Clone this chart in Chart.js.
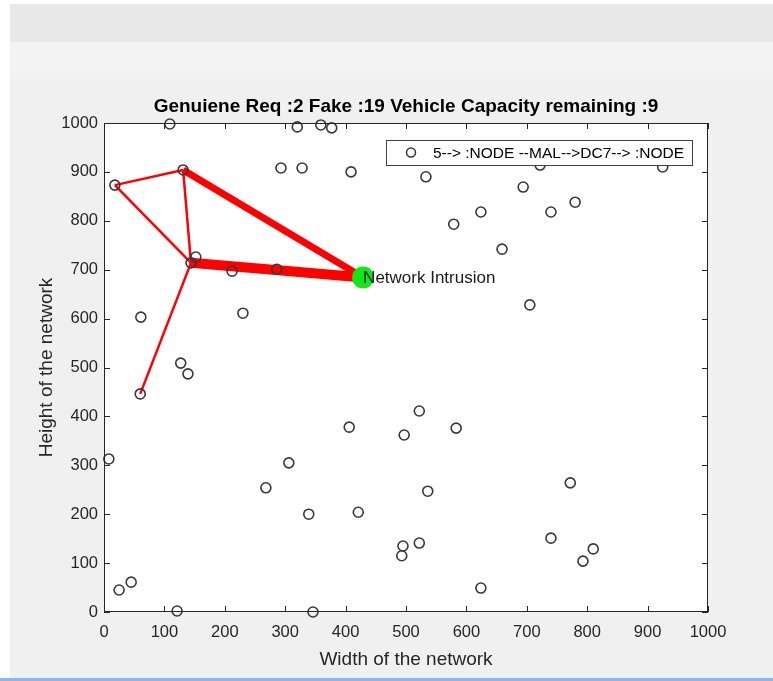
<!DOCTYPE html>
<html lang="en">
<head>
<meta charset="UTF-8">
<title>Network Intrusion</title>
<script src="https://cdn.jsdelivr.net/npm/chart.js"></script>
<style>
    body { margin: 0; background: #fff; font-family: "Liberation Sans", Arial, sans-serif; }
    .frame { position: absolute; left: 10px; top: 4px; width: 763px; height: 674px; background: #f0f0f0; }
    .toolbar { position: absolute; left: 10px; top: 4px; width: 763px; height: 38px; background: #e8e8e8; }
    .strip { position: absolute; left: 10px; top: 42px; width: 763px; height: 37px; background: #f3f3f3; }
    .bottom-line { position: absolute; left: 0; top: 678px; width: 773px; height: 3px; background: #8db6e2; }
    #plot { position: absolute; left: 0; top: 0; }
</style>
</head>
<body>
<div class="frame"></div>
<div class="toolbar"></div>
<div class="strip"></div>
<div class="bottom-line"></div>
<canvas id="plot" width="773" height="681"></canvas>
<script>
// node positions
const nodeX = [109, 320, 359, 377, 293, 328, 409, 131, 18, 533,
               722, 925, 694, 624, 579, 740, 780, 659, 705, 152,
               144, 212, 286, 230, 61, 127, 139, 60, 8, 268,
               306, 406, 497, 522, 583, 536, 772, 25, 45, 121,
               339, 421, 346, 495, 493, 522, 624, 740, 793, 810];
const nodeY = [998, 992, 996, 990, 908, 908, 900, 904, 873, 890,
               914, 910, 869, 818, 793, 818, 838, 742, 628, 726,
               714, 697, 701, 611, 603, 509, 487, 446, 313, 254,
               305, 378, 362, 411, 376, 247, 264, 45, 61, 2,
               200, 204, 0, 135, 115, 141, 49, 151, 104, 129];

// intruder node (green)
const intruderX = [429];
const intruderY = [684];

// route links: node index, -1 means the intruder
const linkFrom = [8, 8, 7, 7, 20, 20];
const linkTo = [7, 20, 20, -1, -1, 27];

const axisTicks = [0, 100, 200, 300, 400, 500, 600, 700, 800, 900, 1000];

const titleText = 'Genuiene Req :2 Fake :19 Vehicle Capacity remaining :9';
const legendText = '5--> :NODE --MAL-->DC7--> :NODE';
const intruderLabel = 'Network Intrusion';

const linkWidths = [2.5, 2.5, 2.5, 7, 10, 2.5];
const FONT = '"Liberation Sans", Arial, sans-serif';

function pointOf(i) {
    return i < 0 ? { x: intruderX[0], y: intruderY[0] } : { x: nodeX[i], y: nodeY[i] };
}

const linkSets = linkFrom.map((f, k) => ({
    data: [pointOf(f), pointOf(linkTo[k])],
    showLine: true,
    borderColor: '#ff0000',
    borderWidth: linkWidths[k],
    pointRadius: 0,
    clip: false,
    order: 3
}));

const figurePlugin = {
    id: 'figure',
    beforeDraw(chart) {
        const { ctx, chartArea: a } = chart;
        ctx.save();
        ctx.fillStyle = '#fff';
        ctx.fillRect(a.left, a.top, a.right - a.left, a.bottom - a.top);
        ctx.restore();
    },
    afterDraw(chart) {
        const { ctx, chartArea: a, scales } = chart;
        ctx.save();
        // box
        ctx.strokeStyle = '#262626';
        ctx.lineWidth = 1;
        ctx.strokeRect(a.left + 0.5, a.top + 0.5, a.right - a.left - 1, a.bottom - a.top - 1);
        // inward ticks
        ctx.beginPath();
        axisTicks.forEach(v => {
            const px = Math.round(scales.x.getPixelForValue(v)) + 0.5;
            ctx.moveTo(px, a.bottom); ctx.lineTo(px, a.bottom - 6);
            ctx.moveTo(px, a.top); ctx.lineTo(px, a.top + 6);
            const py = Math.round(scales.y.getPixelForValue(v)) + 0.5;
            ctx.moveTo(a.left, py); ctx.lineTo(a.left + 6, py);
            ctx.moveTo(a.right, py); ctx.lineTo(a.right - 6, py);
        });
        ctx.stroke();

        // title
        ctx.fillStyle = '#000';
        ctx.font = 'bold 19px ' + FONT;
        ctx.textAlign = 'center';
        ctx.textBaseline = 'middle';
        ctx.fillText(titleText, (a.left + a.right) / 2, 107);

        // intruder label
        ctx.font = '17px ' + FONT;
        ctx.textAlign = 'left';
        ctx.fillStyle = '#1a1a1a';
        ctx.fillText(intruderLabel, scales.x.getPixelForValue(intruderX[0]), scales.y.getPixelForValue(intruderY[0]) + 1);

        // legend box
        const lw = 306, lh = 25;
        const lx = a.right - 16 - lw, ly = a.top + 17;
        ctx.fillStyle = '#fff';
        ctx.fillRect(lx, ly, lw, lh);
        ctx.strokeStyle = '#404040';
        ctx.strokeRect(lx + 0.5, ly + 0.5, lw, lh);
        ctx.beginPath();
        ctx.arc(lx + 25, ly + lh / 2, 4.5, 0, Math.PI * 2);
        ctx.lineWidth = 1.5;
        ctx.strokeStyle = '#333';
        ctx.stroke();
        ctx.fillStyle = '#000';
        ctx.font = '15.5px ' + FONT;
        ctx.fillText(legendText, lx + 47, ly + lh / 2 + 1);
        ctx.restore();
    }
};

new Chart(document.getElementById('plot'), {
    type: 'scatter',
    data: {
        datasets: [
            {
                data: nodeX.map((x, i) => ({ x: x, y: nodeY[i] })),
                pointStyle: 'circle',
                pointRadius: 5,
                borderColor: '#383838',
                borderWidth: 1.6,
                backgroundColor: 'rgba(0,0,0,0)',
                clip: false,
                order: 1
            },
            {
                data: intruderX.map((x, i) => ({ x: x, y: intruderY[i] })),
                pointRadius: 11,
                backgroundColor: '#14e614',
                borderWidth: 0,
                clip: false,
                order: 2
            },
            ...linkSets
        ]
    },
    options: {
        responsive: false,
        devicePixelRatio: 1,
        animation: false,
        layout: { padding: { top: 123, right: 65, left: 0, bottom: 0 } },
        plugins: {
            legend: { display: false },
            tooltip: { enabled: false }
        },
        scales: {
            x: {
                type: 'linear',
                min: 0,
                max: 1000,
                afterBuildTicks: s => { s.ticks = axisTicks.map(v => ({ value: v })); },
                afterFit: s => { s.height = 69; },
                grid: { display: false, drawTicks: false },
                border: { display: false },
                ticks: { color: '#262626', font: { family: FONT, size: 16.5 }, padding: 11, maxRotation: 0, callback: v => String(v) },
                title: { display: true, text: 'Width of the network', color: '#262626', font: { family: FONT, size: 19 }, padding: { bottom: 10, top: 0 } }
            },
            y: {
                type: 'linear',
                min: 0,
                max: 1000,
                afterBuildTicks: s => { s.ticks = axisTicks.map(v => ({ value: v })); },
                afterFit: s => { s.width = 104; },
                grid: { display: false, drawTicks: false },
                border: { display: false },
                ticks: { color: '#262626', font: { family: FONT, size: 16.5 }, padding: 6, callback: v => String(v) },
                title: { display: true, text: 'Height of the network', color: '#262626', font: { family: FONT, size: 19 }, padding: { top: 35, bottom: 0 } }
            }
        }
    },
    plugins: [figurePlugin]
});
</script>
</body>
</html>
